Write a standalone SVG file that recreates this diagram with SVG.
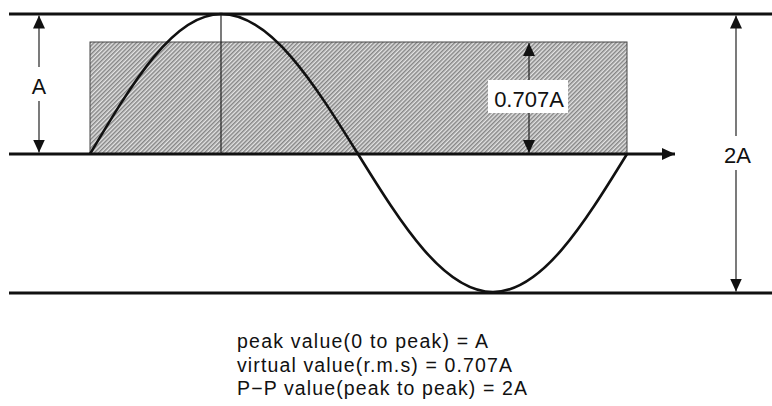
<svg xmlns="http://www.w3.org/2000/svg" width="772" height="406" viewBox="0 0 772 406">
  <defs>
    <pattern id="hatch" width="3" height="3" patternUnits="userSpaceOnUse" patternTransform="rotate(45)">
      <rect width="3" height="3" fill="#e4e4e4"/>
      <line x1="0.75" y1="0" x2="0.75" y2="3" stroke="#858585" stroke-width="1.5"/>
    </pattern>
    <marker id="ah" viewBox="0 0 13 12" refX="13" refY="6" markerWidth="13" markerHeight="12" markerUnits="userSpaceOnUse" orient="auto">
      <path d="M0,0 L13,6 L0,12 Z" fill="#111"/>
    </marker>
    <marker id="ahs" viewBox="0 0 13 12" refX="13" refY="6" markerWidth="13" markerHeight="12" markerUnits="userSpaceOnUse" orient="auto-start-reverse">
      <path d="M0,0 L13,6 L0,12 Z" fill="#111"/>
    </marker>
  </defs>
  <style>
    .guide { stroke: #111; stroke-width: 3; fill: none; }
    .dim { stroke: #222; stroke-width: 1.2; fill: none; }
    .wave { stroke: #111; stroke-width: 2.6; fill: none; }
    .lbl { font-family: "Liberation Sans", Arial, sans-serif; fill: #111; text-anchor: middle; }
    .note { font-family: "Liberation Sans", Arial, sans-serif; font-size: 19.5px; fill: #111; }
  </style>

  <g id="rms-area">
    <rect x="90" y="42" width="537" height="112" fill="url(#hatch)" stroke="#444" stroke-width="1"/>
  </g>

  <g id="guides">
    <line class="guide" x1="9" y1="14" x2="772" y2="14"/>
    <line class="guide" x1="9" y1="293" x2="772" y2="293"/>
    <line class="guide" x1="9" y1="154" x2="675" y2="154" marker-end="url(#ah)"/>
    <line class="dim" x1="221" y1="15" x2="221" y2="154"/>
  </g>

  <g id="sine-wave">
    <path class="wave" d="M90,154 C132.7,82.3 173.6,14 221,14 C270.6,14 313.3,82.3 358,154 C402,225 444.1,292 493,292 C541.5,292 583.3,225 627,154"/>
  </g>

  <g id="connectors">
    <line class="dim" x1="39" y1="67" x2="39" y2="15.5" marker-end="url(#ah)"/>
    <line class="dim" x1="39" y1="101" x2="39" y2="152.5" marker-end="url(#ah)"/>
    <line class="dim" x1="529" y1="43" x2="529" y2="153" marker-start="url(#ahs)" marker-end="url(#ah)"/>
    <line class="dim" x1="736" y1="136" x2="736" y2="15.5" marker-end="url(#ah)"/>
    <line class="dim" x1="736" y1="170" x2="736" y2="291.5" marker-end="url(#ah)"/>
  </g>

  <g id="label-A">
    <text class="lbl" x="39" y="93.5" font-size="21.5">A</text>
  </g>
  <g id="label-rms">
    <rect x="488" y="80" width="80" height="33" fill="#fff"/>
    <text class="lbl" x="529" y="107" font-size="22">0.707A</text>
  </g>
  <g id="label-2A">
    <text class="lbl" x="737.5" y="162.5" font-size="22">2A</text>
  </g>

  <g id="notes">
    <text class="note" x="237" y="348" textLength="251" lengthAdjust="spacing">peak value(0 to peak) = A</text>
    <text class="note" x="237" y="372" textLength="275" lengthAdjust="spacing">virtual value(r.m.s) = 0.707A</text>
    <text class="note" x="237" y="395" textLength="290" lengthAdjust="spacing">P−P value(peak to peak) = 2A</text>
  </g>
</svg>
